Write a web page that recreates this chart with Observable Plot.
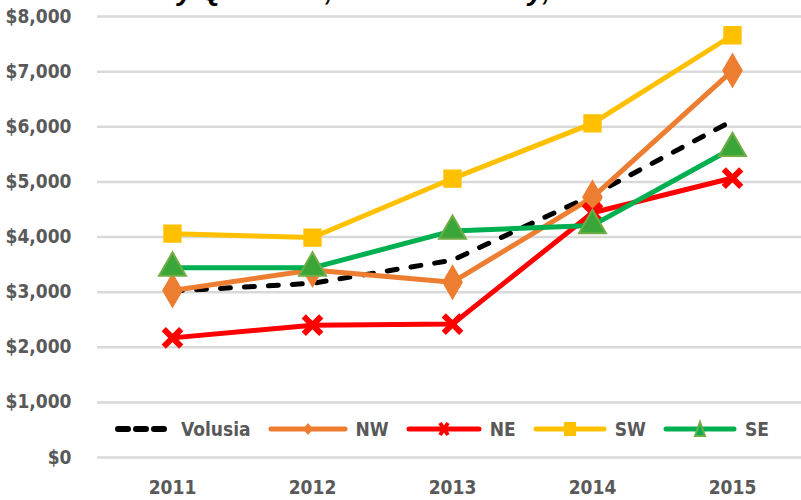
<!DOCTYPE html>
<html>
<head>
<meta charset="utf-8">
<script src="https://cdn.jsdelivr.net/npm/d3@7"></script>
<script src="https://cdn.jsdelivr.net/npm/@observablehq/plot@0.6"></script>
<style>
  html, body { margin: 0; padding: 0; background: #fff; }
  body { width: 801px; height: 500px; overflow: hidden; position: relative;
         font-family: "Liberation Sans Narrow", "DejaVu Sans Condensed", sans-serif; }
  #title { position: absolute; top: 0; left: 0; width: 801px; height: 10px; overflow: hidden; z-index: 2; }
  #title span { position: absolute; left: 0; width: 850px; text-align: center; bottom: 5px;
                font: italic bold 28px "Liberation Sans", sans-serif; color: #000; line-height: 28px; white-space: nowrap; }
  #legend { position: absolute; top: 418px; left: 113px; display: flex; align-items: center;
            font-weight: bold; font-size: 19px; color: #595959; }
  #legend .item { display: flex; align-items: center; margin-right: 17px; }
  #legend svg { display: block; }
  #legend .lab { margin-left: 8px; }
  #legend .item.first .lab { margin-left: 12px; }
</style>
</head>
<body>
<div id="chart"></div>
<div id="title"><span>by Quadrant, Volusia County, 2011-2015</span></div>
<div id="legend"></div>
<script>
const years = [2011, 2012, 2013, 2014, 2015];
const seriesNames = ["Volusia", "NW", "NE", "SW", "SE"];
const volusia = [3020, 3160, 3580, 4760, 6110];
const nw = [3030, 3400, 3180, 4720, 7020];
const ne = [2170, 2400, 2420, 4440, 5070];
const sw = [4060, 3990, 5060, 6060, 7660];
const se = [3440, 3440, 4110, 4210, 5610];
const yTicks = [0, 1000, 2000, 3000, 4000, 5000, 6000, 7000, 8000];

const colors = {Volusia: "#000000", NW: "#ED7D31", NE: "#FF0000", SW: "#FFC000", SE: "#00B050"};
const valuesByName = {Volusia: volusia, NW: nw, NE: ne, SW: sw, SE: se};
const rows = seriesNames.flatMap(name => years.map((year, i) => ({name, year, value: valuesByName[name][i]})));
const sel = n => rows.filter(d => d.name === n);

const chart = Plot.plot({
  width: 801,
  height: 500,
  marginTop: 16,
  marginBottom: 43,
  marginLeft: 97,
  marginRight: 0,
  style: {fontFamily: "'Liberation Sans Narrow', 'DejaVu Sans Condensed', sans-serif", fontSize: "19px", fontWeight: "bold", color: "#595959", background: "#fff"},
  x: {type: "point", domain: years, range: [170, 733], padding: 0, label: null, tickSize: 0, tickPadding: 23, tickFormat: d => String(d)},
  y: {domain: [0, 8000], ticks: yTicks, tickFormat: d3.format("$,"), label: null, tickSize: 0, tickPadding: 26},
  marks: [
    Plot.ruleY(yTicks, {stroke: "#d9d9d9", strokeWidth: 2.5}),
    Plot.line(sel("Volusia"), {x: "year", y: "value", stroke: colors.Volusia, strokeWidth: 5, strokeDasharray: "10,14", strokeLinecap: "round"}),
    Plot.line(sel("NW"), {x: "year", y: "value", stroke: colors.NW, strokeWidth: 5}),
    Plot.dot(sel("NW"), {x: "year", y: "value", symbol: "diamond", r: 10, fill: colors.NW, stroke: colors.NW}),
    Plot.line(sel("NE"), {x: "year", y: "value", stroke: colors.NE, strokeWidth: 5}),
    Plot.dot(sel("NE"), {x: "year", y: "value", symbol: "times", r: 8, stroke: colors.NE, strokeWidth: 6}),
    Plot.line(sel("SW"), {x: "year", y: "value", stroke: colors.SW, strokeWidth: 5}),
    Plot.dot(sel("SW"), {x: "year", y: "value", symbol: "square", r: 9.5, fill: colors.SW, stroke: colors.SW}),
    Plot.line(sel("SE"), {x: "year", y: "value", stroke: colors.SE, strokeWidth: 5}),
    Plot.dot(sel("SE"), {x: "year", y: "value", symbol: "triangle", r: 10, fill: "#3aa63a", stroke: "#70AD47", strokeWidth: 2})
  ]
});
document.getElementById("chart").appendChild(chart);

const legend = document.getElementById("legend");
const swatch = {
  Volusia: `<svg width="56" height="20"><line x1="5" y1="10" x2="51" y2="10" stroke="#000" stroke-width="6" stroke-dasharray="10,8" stroke-linecap="round"/></svg>`,
  NW: `<svg width="80" height="20"><line x1="3" y1="10" x2="77" y2="10" stroke="${colors.NW}" stroke-width="5" stroke-linecap="round"/><path d="M40,4 L45,10 L40,16 L35,10 Z" fill="${colors.NW}"/></svg>`,
  NE: `<svg width="76" height="20"><line x1="3" y1="10" x2="73" y2="10" stroke="${colors.NE}" stroke-width="5" stroke-linecap="round"/><path d="M34,4 L42,16 M42,4 L34,16" stroke="${colors.NE}" stroke-width="4"/></svg>`,
  SW: `<svg width="74" height="20"><line x1="3" y1="10" x2="71" y2="10" stroke="${colors.SW}" stroke-width="5" stroke-linecap="round"/><rect x="31" y="3" width="12" height="14" fill="${colors.SW}"/></svg>`,
  SE: `<svg width="74" height="20"><line x1="3" y1="10" x2="71" y2="10" stroke="${colors.SE}" stroke-width="5" stroke-linecap="round"/><path d="M37,3 L42,17 L32,17 Z" fill="${colors.SE}" stroke="#70AD47" stroke-width="2"/></svg>`
};
seriesNames.forEach((n, i) => {
  const item = document.createElement("div");
  item.className = i === 0 ? "item first" : "item";
  item.innerHTML = swatch[n] + `<span class="lab">${n}</span>`;
  legend.appendChild(item);
});
</script>
</body>
</html>
